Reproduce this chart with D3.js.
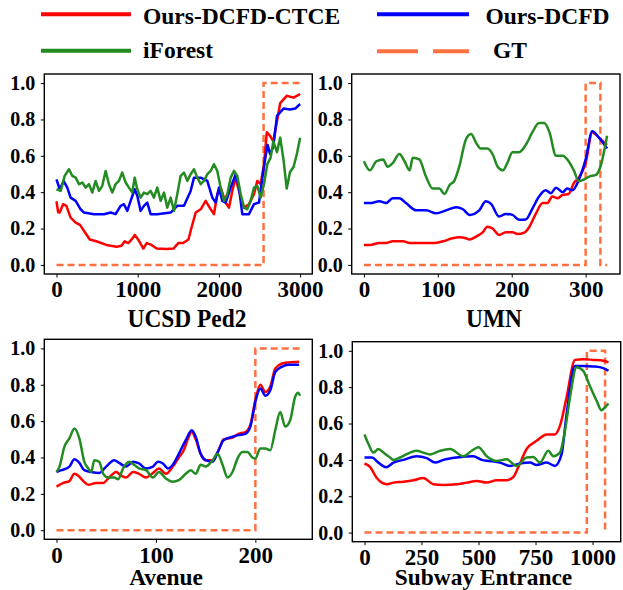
<!DOCTYPE html>
<html><head><meta charset="utf-8">
<script src="https://cdn.jsdelivr.net/npm/d3@7/dist/d3.min.js"></script>
<style>
html,body{margin:0;padding:0;background:#fff;}
svg{display:block;}
</style></head>
<body>
<svg id="chart" width="623" height="590"></svg>
<script>
// ---------------- DATA ----------------
const seriesNames = ["Ours-DCFD-CTCE", "Ours-DCFD", "iForest", "GT"];
const panelTitles = ["UCSD Ped2", "UMN", "Avenue", "Subway Entrance"];
const yTicks = [0.0, 0.2, 0.4, 0.6, 0.8, 1.0];
const ped2Ticks = [0, 1000, 2000, 3000];
const umnTicks = [0, 100, 200, 300];
const avenueTicks = [0, 100, 200];
const subwayTicks = [0, 250, 500, 750, 1000];

// UCSD Ped2
const ped2Ctce = [[0,.35],[20,.29],[40,.288],[81,.334],[122,.325],[174,.26],[236,.233],[290,.22],[350,.18],[410,.14],[490,.13],[615,.11],[740,.10],[800,.105],[840,.13],[885,.12],[925,.14],[965,.165],[1005,.14],[1070,.09],[1110,.12],[1170,.11],[1235,.09],[1355,.088],[1440,.09],[1500,.12],[1560,.12],[1625,.14],[1660,.20],[1714,.288],[1776,.306],[1837,.352],[1899,.306],[1939,.279],[1980,.389],[2022,.425],[2083,.343],[2124,.315],[2165,.407],[2206,.48],[2247,.407],[2309,.315],[2370,.334],[2432,.389],[2473,.462],[2514,.444],[2555,.554],[2590,.73],[2630,.71],[2670,.68],[2715,.79],[2755,.89],[2835,.93],[2920,.92],[3000,.94]];
const ped2Dcfd = [[0,.471],[40,.416],[88,.462],[133,.425],[174,.37],[236,.352],[297,.306],[339,.288],[462,.279],[585,.279],[667,.288],[728,.279],[790,.325],[831,.334],[872,.297],[913,.352],[963,.416],[995,.38],[1036,.297],[1077,.325],[1118,.343],[1159,.279],[1241,.279],[1406,.288],[1487,.325],[1570,.325],[1652,.407],[1693,.48],[1776,.48],[1857,.462],[1919,.37],[1960,.343],[2001,.425],[2042,.352],[2083,.343],[2145,.425],[2206,.499],[2247,.425],[2288,.279],[2370,.279],[2432,.334],[2494,.343],[2535,.48],[2576,.60],[2600,.66],[2630,.61],[2670,.65],[2715,.82],[2795,.86],[2875,.855],[2940,.86],[3000,.885]];
const ped2Iforest = [[0,.416],[52,.407],[101,.49],[154,.526],[195,.49],[236,.48],[277,.444],[318,.453],[359,.425],[400,.444],[441,.398],[482,.462],[523,.407],[564,.435],[605,.517],[646,.444],[687,.398],[728,.444],[769,.462],[810,.508],[852,.453],[892,.425],[933,.398],[963,.48],[995,.416],[1036,.37],[1077,.398],[1118,.389],[1159,.407],[1200,.37],[1241,.425],[1283,.352],[1324,.398],[1364,.315],[1406,.37],[1447,.297],[1487,.389],[1529,.49],[1570,.508],[1611,.462],[1652,.499],[1693,.526],[1734,.48],[1776,.444],[1816,.462],[1857,.499],[1899,.517],[1939,.554],[1980,.517],[2022,.425],[2063,.352],[2103,.389],[2145,.48],[2186,.517],[2226,.49],[2268,.389],[2309,.315],[2349,.306],[2391,.352],[2432,.425],[2473,.435],[2514,.37],[2555,.444],[2596,.554],[2637,.59],[2670,.68],[2715,.62],[2755,.70],[2795,.58],[2835,.42],[2875,.51],[2920,.54],[2960,.61],[3000,.70]];
const ped2Gt = [[0,0],[2550,0],[2550,1],[3000,1]];

// UMN
const umnCtce = [[0,.11],[8,.11],[21,.12],[30,.12],[39,.13],[53,.13],[62,.12],[75,.12],[93,.12],[107,.13],[120,.147],[129,.152],[138,.147],[143,.14],[152,.156],[161,.18],[167,.21],[174,.20],[183,.165],[192,.18],[201,.18],[208,.17],[217,.178],[224,.21],[233,.285],[242,.34],[248,.34],[255,.376],[262,.367],[269,.385],[277,.39],[284,.45],[291,.48],[300,.56],[309,.73],[318,.70],[329,.66]];
const umnDcfd = [[0,.34],[8,.34],[21,.35],[30,.34],[39,.367],[48,.367],[57,.34],[71,.30],[84,.30],[98,.284],[111,.30],[125,.317],[134,.306],[143,.275],[156,.30],[165,.35],[172,.336],[183,.266],[192,.28],[201,.275],[210,.248],[219,.25],[228,.31],[237,.376],[246,.41],[253,.394],[260,.425],[269,.40],[275,.42],[282,.41],[291,.47],[300,.58],[309,.735],[318,.70],[329,.64]];
const umnIforest = [[0,.57],[8,.52],[17,.57],[26,.58],[32,.54],[39,.56],[48,.61],[55,.57],[62,.52],[66,.59],[75,.58],[84,.486],[93,.42],[102,.42],[109,.39],[116,.44],[122,.46],[129,.54],[138,.69],[145,.72],[152,.67],[158,.64],[167,.64],[174,.61],[181,.54],[188,.52],[194,.56],[201,.62],[210,.62],[219,.66],[228,.73],[237,.78],[244,.78],[251,.73],[260,.60],[269,.60],[277,.57],[284,.52],[291,.46],[298,.47],[305,.486],[314,.495],[320,.54],[329,.71]];
const umnGt = [[0,0],[300,0],[300,1],[320,1],[320,0],[329,0]];

// Avenue
const avenueCtce = [[0,.24],[7,.26],[13,.27],[18,.31],[22,.30],[27,.27],[32,.25],[40,.26],[47,.26],[53,.29],[60,.32],[65,.30],[70,.29],[77,.32],[83,.31],[90,.29],[97,.315],[103,.34],[110,.31],[117,.35],[123,.40],[128,.44],[132,.50],[136,.54],[140,.50],[145,.42],[150,.385],[157,.385],[163,.44],[168,.50],[177,.51],[183,.53],[190,.54],[195,.58],[200,.716],[205,.80],[210,.76],[215,.79],[220,.89],[227,.917],[233,.923],[244,.927]];
const avenueDcfd = [[0,.32],[5,.33],[13,.35],[18,.39],[23,.37],[28,.33],[35,.32],[43,.315],[50,.35],[58,.385],[63,.37],[70,.35],[77,.376],[83,.367],[90,.34],[97,.35],[102,.376],[107,.367],[112,.34],[117,.36],[123,.42],[130,.495],[136,.55],[140,.514],[145,.42],[150,.385],[157,.376],[163,.44],[168,.495],[177,.514],[183,.523],[190,.53],[195,.57],[200,.706],[205,.78],[210,.74],[215,.77],[220,.87],[227,.90],[233,.91],[244,.91]];
const avenueIforest = [[0,.32],[3,.35],[8,.46],[13,.505],[18,.56],[23,.505],[28,.376],[32,.34],[35,.32],[38,.385],[43,.376],[47,.31],[52,.29],[58,.29],[62,.28],[67,.34],[73,.376],[78,.36],[83,.34],[90,.33],[97,.29],[103,.32],[110,.284],[117,.266],[123,.275],[130,.31],[135,.33],[140,.31],[145,.36],[150,.35],[157,.385],[162,.42],[167,.36],[172,.29],[177,.32],[182,.394],[187,.43],[192,.43],[197,.40],[200,.394],[205,.45],[210,.45],[215,.44],[220,.55],[225,.65],[230,.57],[235,.605],[240,.734],[243,.756],[245,.74]];
const avenueGt = [[0,0],[200,0],[200,1],[245,1]];

// Subway Entrance
const subwayCtce = [[0,.38],[25,.36],[54,.30],[98,.266],[127,.275],[171,.28],[215,.288],[258,.30],[302,.266],[346,.262],[404,.266],[448,.275],[492,.284],[536,.275],[580,.288],[623,.288],[653,.306],[674,.358],[711,.46],[755,.505],[799,.54],[835,.54],[857,.587],[886,.743],[923,.95],[959,.954],[1003,.95],[1047,.945],[1070,.936]];
const subwayDcfd = [[0,.413],[32,.413],[61,.385],[95,.36],[127,.385],[171,.40],[229,.42],[273,.41],[310,.385],[346,.40],[404,.413],[477,.42],[514,.40],[550,.394],[594,.385],[638,.367],[682,.38],[726,.385],[755,.372],[799,.385],[835,.367],[864,.43],[886,.65],[923,.917],[959,.917],[1003,.914],[1047,.905],[1070,.89]];
const subwayIforest = [[0,.54],[18,.486],[39,.44],[61,.46],[83,.44],[105,.42],[127,.40],[156,.413],[200,.44],[229,.45],[258,.44],[288,.43],[332,.45],[375,.46],[434,.42],[470,.45],[499,.47],[536,.42],[580,.394],[623,.403],[667,.367],[711,.413],[740,.416],[769,.385],[806,.45],[828,.42],[857,.44],[879,.56],[901,.743],[930,.91],[959,.89],[988,.807],[1018,.725],[1039,.673],[1054,.688],[1070,.71]];
const subwayGt = [[0,0],[975,0],[975,1],[1055,1],[1055,0]];

// ---------------- DRAW ----------------
const FONT = "Liberation Serif";
const colors = {ctce:"#ff0000", dcfd:"#0000ff", iforest:"#228b22", gt:"#ff7040"};
const svg = d3.select("#chart");

function styleText(sel, size) {
  sel.attr("font-family", FONT).attr("font-weight", "bold").attr("font-size", size)
     .style("font-family", FONT).style("font-weight", "bold").style("font-size", size + "px")
     .attr("fill", "#000");
  return sel;
}

const panels = [
  {title:panelTitles[0], ticks:ped2Ticks, xd:[-150,3150], box:[44.3,74,312.3,274], tx:187, ty:327, tsy:1.1,
   ctce:ped2Ctce, dcfd:ped2Dcfd, iforest:ped2Iforest, gt:ped2Gt, smooth:false},
  {title:panelTitles[1], ticks:umnTicks, xd:[-16.5,346.5], box:[351.7,74,620,274], tx:494, ty:327, tsy:1.1,
   ctce:umnCtce, dcfd:umnDcfd, iforest:umnIforest, gt:umnGt, smooth:true},
  {title:panelTitles[2], ticks:avenueTicks, xd:[-12.25,257.25], box:[44.3,339.3,312.3,539.3], tx:166, ty:585, tsy:1,
   ctce:avenueCtce, dcfd:avenueDcfd, iforest:avenueIforest, gt:avenueGt, smooth:true},
  {title:panelTitles[3], ticks:subwayTicks, xd:[-53.5,1123.5], box:[352.3,341.7,620.7,541.7], tx:483.5, ty:585, tsy:1,
   ctce:subwayCtce, dcfd:subwayDcfd, iforest:subwayIforest, gt:subwayGt, smooth:true}
];

panels.forEach((p, i) => {
  const [x0,y0,x1,y1] = p.box;
  const x = d3.scaleLinear().domain(p.xd).range([x0,x1]);
  const y = d3.scaleLinear().domain([-0.05,1.05]).range([y1,y0]);
  const g = svg.append("g");
  const clipId = "clip" + i;
  svg.append("clipPath").attr("id", clipId).append("rect")
    .attr("x", x0).attr("y", y0).attr("width", x1-x0).attr("height", y1-y0);

  const plot = g.append("g").attr("clip-path", `url(#${clipId})`);
  const lineS = d3.line().x(d=>x(d[0])).y(d=>y(d[1])).curve(p.smooth ? d3.curveMonotoneX : d3.curveLinear);
  const lineL = d3.line().x(d=>x(d[0])).y(d=>y(d[1]));

  plot.append("path").datum(p.gt).attr("d", lineL).attr("fill","none")
    .attr("stroke", colors.gt).attr("stroke-width", 2.5).attr("stroke-dasharray","7,4");
  plot.append("path").datum(p.ctce).attr("d", lineS).attr("fill","none")
    .attr("stroke", colors.ctce).attr("stroke-width", 2.5).attr("stroke-linejoin","round");
  plot.append("path").datum(p.dcfd).attr("d", lineS).attr("fill","none")
    .attr("stroke", colors.dcfd).attr("stroke-width", 2.5).attr("stroke-linejoin","round");
  plot.append("path").datum(p.iforest).attr("d", lineS).attr("fill","none")
    .attr("stroke", colors.iforest).attr("stroke-width", 2.5).attr("stroke-linejoin","round");

  // axes
  const xa = g.append("g").attr("transform", `translate(0,${y1})`)
    .call(d3.axisBottom(x).tickValues(p.ticks).tickFormat(d3.format("d")).tickSize(3.5).tickPadding(3.5));
  xa.attr("font-family", FONT);
  xa.select(".domain").remove();
  styleText(xa.selectAll("text"), 23);
  xa.selectAll("line").attr("stroke","#000").attr("stroke-width",1);

  const ya = g.append("g").attr("transform", `translate(${x0},0)`)
    .call(d3.axisLeft(y).tickValues(yTicks).tickFormat(d3.format(".1f")).tickSize(3.5).tickPadding(5.5));
  ya.attr("font-family", FONT);
  ya.select(".domain").remove();
  styleText(ya.selectAll("text"), 20);
  ya.selectAll("line").attr("stroke","#000").attr("stroke-width",1);

  g.append("rect").attr("x",x0).attr("y",y0).attr("width",x1-x0).attr("height",y1-y0)
    .attr("fill","none").attr("stroke","#000").attr("stroke-width",1.4);

  styleText(g.append("text").attr("transform", `translate(${p.tx},${p.ty}) scale(1,${p.tsy})`)
    .attr("text-anchor","middle").text(p.title), 23.4);
});

// legend
const legendItems = [
  {name:seriesNames[0], color:colors.ctce, x1:41, x2:131, y:14.3, tx:143, ty:23.5, dash:null},
  {name:seriesNames[1], color:colors.dcfd, x1:377, x2:469, y:14.3, tx:485.5, ty:23.5, dash:null},
  {name:seriesNames[2], color:colors.iforest, x1:41, x2:131, y:50.7, tx:143, ty:57.5, dash:null},
  {name:seriesNames[3], color:colors.gt, x1:377, x2:469, y:51.2, tx:493, ty:57.5, dash:"41,15"}
];
const lg = svg.append("g");
legendItems.forEach(it => {
  lg.append("line").attr("x1",it.x1).attr("x2",it.x2).attr("y1",it.y).attr("y2",it.y)
    .attr("stroke",it.color).attr("stroke-width",4).attr("stroke-dasharray", it.dash);
  styleText(lg.append("text").attr("x",it.tx).attr("y",it.ty).text(it.name), 23.5);
});
</script>
</body></html>
